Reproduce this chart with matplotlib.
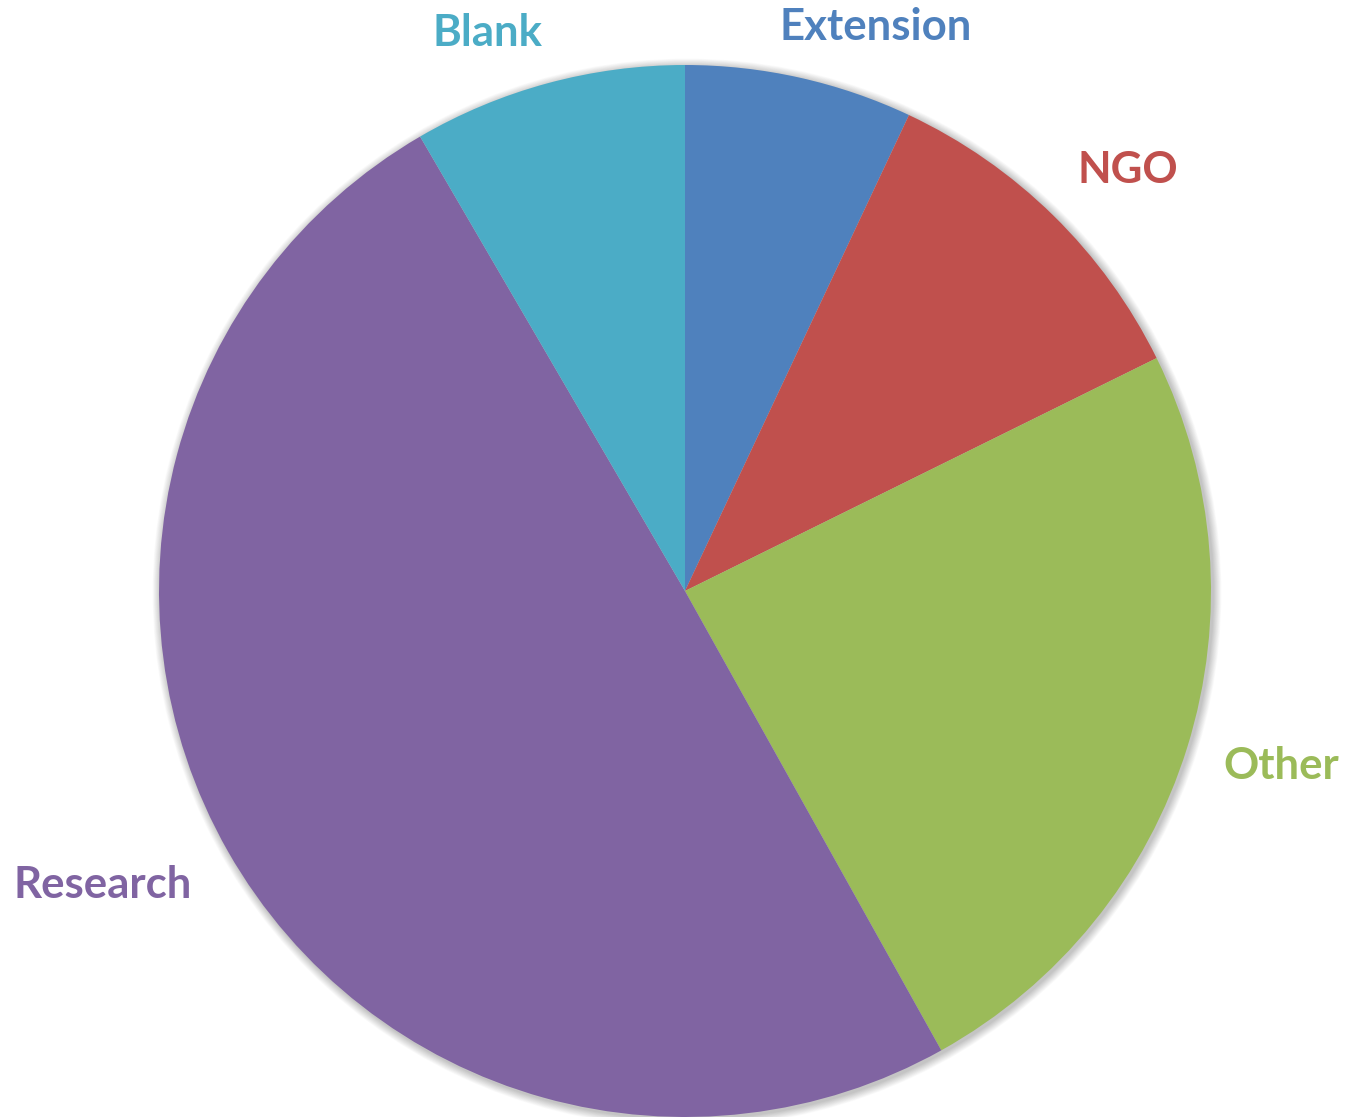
import matplotlib
matplotlib.use("Agg")
import matplotlib.pyplot as plt
from matplotlib.patches import Circle

categories = ["Extension", "NGO", "Other", "Research", "Blank"]
values = [7.0, 10.7, 24.2, 49.7, 8.4]
colors = ["#4F81BD", "#C0504D", "#9BBB59", "#8064A2", "#4BACC6"]

W, H = 1347, 1117
fig = plt.figure(figsize=(W / 100, H / 100), dpi=100)
ax = fig.add_axes([0, 0, 1, 1])

cx, cy, R = 685, H - 591, 526

# soft shadow
for i in range(12, 0, -1):
    ax.add_patch(Circle((cx + 2, cy - 2), R + i * 0.7, color="black",
                        alpha=0.02, lw=0, zorder=0))

wedges, texts = ax.pie(values, labels=categories, colors=colors, startangle=90,
                       counterclock=False, center=(cx, cy), radius=R,
                       wedgeprops=dict(linewidth=0), frame=True)
ax.set_xlim(0, W)
ax.set_ylim(0, H)
ax.set_aspect("equal")
ax.axis("off")

label_pos = {"Extension": (876, 27), "NGO": (1128, 170), "Other": (1281, 766),
             "Research": (103, 885), "Blank": (488, 33)}
for t, c, col in zip(texts, categories, colors):
    x, y = label_pos[c]
    t.set_position((x, H - y))
    t.set_ha("center")
    t.set_va("center")
    t.set_color(col)
    t.set_fontsize(31.5)
    t.set_fontweight("bold")
    t.set_family(["Lato", "DejaVu Sans"])

fig.savefig("out.png", dpi=100, facecolor="white")
